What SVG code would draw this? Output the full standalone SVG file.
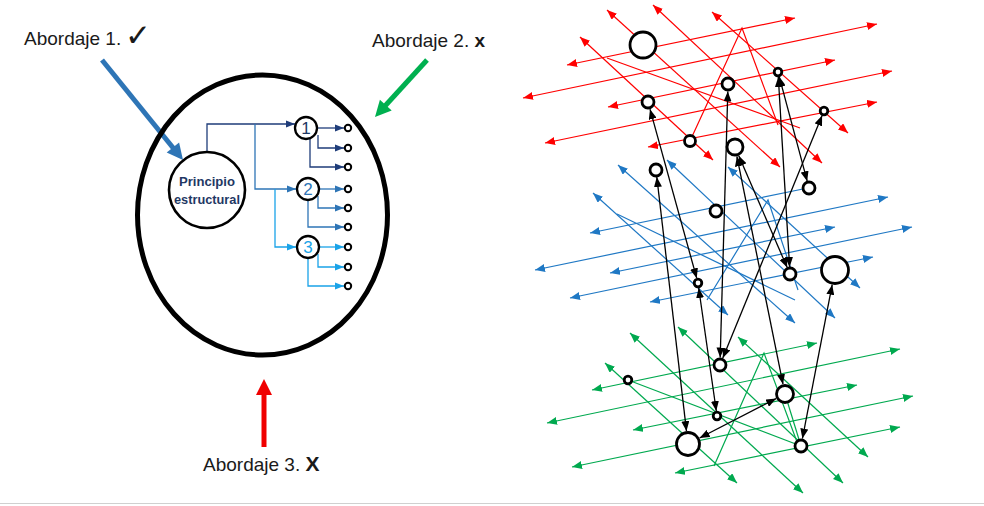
<svg xmlns="http://www.w3.org/2000/svg" width="984" height="506" viewBox="0 0 984 506">
<defs>
<style>
.lbl{font-family:"Liberation Sans",Arial,sans-serif;font-size:19px;fill:#1a1a1a}
.red{stroke:#ff0000;stroke-width:1.2;fill:none}
.blu{stroke:#1f78c4;stroke-width:1.2;fill:none}
.grn{stroke:#00a94f;stroke-width:1.2;fill:none}
.blk{stroke:#000;stroke-width:1.3;fill:none}
.red.a{marker-start:url(#mr);marker-end:url(#mr)}
.blu.a{marker-start:url(#mb);marker-end:url(#mb)}
.blu.s{marker-start:url(#mb)}
.grn.a{marker-start:url(#mg);marker-end:url(#mg)}
.blk.a{marker-start:url(#mk);marker-end:url(#mk)}
.nd{fill:#fff;stroke:#000;stroke-width:2.8}
.sn{fill:#fff;stroke:#000;stroke-width:2}
.c1{stroke:#1f3d7a;stroke-width:1.3;fill:none;marker-end:url(#m1)}
.c2{stroke:#2e75b6;stroke-width:1.3;fill:none;marker-end:url(#m2)}
.c3{stroke:#1aa3e8;stroke-width:1.3;fill:none;marker-end:url(#m3)}
.num{font-family:"Liberation Sans",Arial,sans-serif;font-size:17px;text-anchor:middle}
</style>
<marker id="mr" viewBox="0 0 10 8" refX="10" refY="4" markerWidth="10" markerHeight="8" markerUnits="userSpaceOnUse" orient="auto-start-reverse"><path d="M0,0L10,4L0,8z" fill="#ff0000"/></marker>
<marker id="mb" viewBox="0 0 10 8" refX="10" refY="4" markerWidth="10" markerHeight="8" markerUnits="userSpaceOnUse" orient="auto-start-reverse"><path d="M0,0L10,4L0,8z" fill="#1f78c4"/></marker>
<marker id="mg" viewBox="0 0 10 8" refX="10" refY="4" markerWidth="10" markerHeight="8" markerUnits="userSpaceOnUse" orient="auto-start-reverse"><path d="M0,0L10,4L0,8z" fill="#00a94f"/></marker>
<marker id="mk" viewBox="0 0 10 8" refX="10" refY="4" markerWidth="10" markerHeight="8" markerUnits="userSpaceOnUse" orient="auto-start-reverse"><path d="M0,0L10,4L0,8z" fill="#000"/></marker>
<marker id="m1" viewBox="0 0 10 8" refX="10" refY="4" markerWidth="9" markerHeight="8" markerUnits="userSpaceOnUse" orient="auto"><path d="M0,0L10,4L0,8z" fill="#1f3d7a"/></marker>
<marker id="m2" viewBox="0 0 10 8" refX="10" refY="4" markerWidth="9" markerHeight="8" markerUnits="userSpaceOnUse" orient="auto"><path d="M0,0L10,4L0,8z" fill="#2e75b6"/></marker>
<marker id="m3" viewBox="0 0 10 8" refX="10" refY="4" markerWidth="9" markerHeight="8" markerUnits="userSpaceOnUse" orient="auto"><path d="M0,0L10,4L0,8z" fill="#1aa3e8"/></marker>
</defs>
<rect width="984" height="506" fill="#fff"/>
<line x1="0" y1="503.5" x2="984" y2="503.5" stroke="#d0d0d0" stroke-width="1"/>

<!-- Left: labels and approach arrows -->
<g id="label-abordaje1">
<text class="lbl" x="24" y="45">Abordaje 1.</text>
<text x="125" y="46" font-family="DejaVu Sans,sans-serif" font-size="31" font-weight="bold" fill="#1a1a1a">✓</text>
</g>
<g id="label-abordaje2">
<text class="lbl" x="372" y="47">Abordaje 2. <tspan font-weight="bold">x</tspan></text>
</g>
<g id="label-abordaje3">
<text class="lbl" x="203" y="471">Abordaje 3. <tspan font-weight="bold" font-size="21">X</tspan></text>
</g>

<g id="arrow-1">
<line x1="102" y1="60" x2="174" y2="149" stroke="#2e75b6" stroke-width="5"/>
<polygon points="183,160 166.7,152.6 179.1,142.6" fill="#2e75b6"/>
</g>
<g id="arrow-2">
<line x1="427" y1="60" x2="385" y2="106" stroke="#00b050" stroke-width="5"/>
<polygon points="375,117 391.7,110.6 379.9,99.8" fill="#00b050"/>
</g>
<g id="arrow-3">
<line x1="264" y1="447" x2="264" y2="393" stroke="#f00000" stroke-width="5"/>
<polygon points="264,379 256,395 272,395" fill="#f00000"/>
</g>

<g id="outer-circle">
<ellipse cx="262.5" cy="215" rx="125" ry="140" fill="none" stroke="#000" stroke-width="5"/>
</g>

<g id="inner-connectors">
<path class="c1" d="M207,152V124H295"/>
<path class="c2" d="M255,124V189H296"/>
<path class="c3" d="M275,189V247H296"/>
<path class="c1" d="M317,128H344"/>
<path class="c1" d="M318,135V148H344"/>
<path class="c1" d="M310,139V167H344"/>
<path class="c2" d="M319,189H344"/>
<path class="c2" d="M318,196V208H344"/>
<path class="c2" d="M308,200V227H344"/>
<path class="c3" d="M319,247H344"/>
<path class="c3" d="M318,254V267H344"/>
<path class="c3" d="M308,258V286H344"/>
</g>

<g id="principio">
<circle cx="207" cy="190" r="38" fill="#fff" stroke="#000" stroke-width="2.6"/>
<text x="207" y="186" text-anchor="middle" font-family="Liberation Sans,Arial,sans-serif" font-size="13" font-weight="bold" fill="#1f3864" textLength="56" lengthAdjust="spacingAndGlyphs">Principio</text>
<text x="207" y="203.5" text-anchor="middle" font-family="Liberation Sans,Arial,sans-serif" font-size="13" font-weight="bold" fill="#1f3864" textLength="66" lengthAdjust="spacingAndGlyphs">estructural</text>
</g>
<g id="node-1">
<circle cx="306" cy="128" r="11" fill="#fff" stroke="#000" stroke-width="2.3"/>
<text class="num" x="306" y="134" fill="#1f3864">1</text>
</g>
<g id="node-2">
<circle cx="308" cy="189" r="11" fill="#fff" stroke="#000" stroke-width="2.3"/>
<text class="num" x="308" y="195" fill="#2e75b6">2</text>
</g>
<g id="node-3">
<circle cx="308" cy="247" r="11" fill="#fff" stroke="#000" stroke-width="2.3"/>
<text class="num" x="308" y="253" fill="#1aa3e8">3</text>
</g>
<g id="leaves">
<circle class="sn" cx="348" cy="128" r="3.2"/>
<circle class="sn" cx="348" cy="148" r="3.2"/>
<circle class="sn" cx="348" cy="167" r="3.2"/>
<circle class="sn" cx="348" cy="189" r="3.2"/>
<circle class="sn" cx="348" cy="208" r="3.2"/>
<circle class="sn" cx="348" cy="227" r="3.2"/>
<circle class="sn" cx="348" cy="247" r="3.2"/>
<circle class="sn" cx="348" cy="267" r="3.2"/>
<circle class="sn" cx="348" cy="286" r="3.2"/>
</g>

<!-- Right: layered network -->
<g id="red-layer">
<line class="red a" x1="567" y1="65" x2="795" y2="18"/>
<line class="red a" x1="523" y1="98" x2="877" y2="24"/>
<line class="red a" x1="608" y1="107" x2="835" y2="60"/>
<line class="red a" x1="545" y1="143" x2="892" y2="71"/>
<line class="red a" x1="648" y1="147" x2="877" y2="102"/>
<line class="red a" x1="580" y1="37" x2="713" y2="160"/>
<line class="red a" x1="607" y1="10" x2="780" y2="167"/>
<line class="red a" x1="653" y1="5" x2="822" y2="163"/>
<line class="red a" x1="712" y1="12" x2="848" y2="133"/>
<line class="red" x1="607" y1="58" x2="800" y2="128"/>
<polyline class="red" points="690,141 742,28 778,125"/>
</g>
<g id="blue-layer">
<line class="blu s" x1="590" y1="233" x2="803" y2="189"/>
<line class="blu a" x1="535" y1="270" x2="888" y2="197"/>
<line class="blu a" x1="610" y1="273" x2="835" y2="227"/>
<line class="blu a" x1="570" y1="298" x2="912" y2="227"/>
<line class="blu a" x1="650" y1="302" x2="873" y2="257"/>
<line class="blu a" x1="593" y1="193" x2="728" y2="315"/>
<line class="blu a" x1="618" y1="165" x2="795" y2="323"/>
<line class="blu a" x1="667" y1="160" x2="835" y2="318"/>
<line class="blu a" x1="728" y1="167" x2="860" y2="288"/>
<line class="blu" x1="617" y1="214" x2="795" y2="300"/>
<polyline class="blu" points="707,300 768,200 798,290"/>
</g>
<g id="green-layer">
<line class="grn a" x1="592" y1="390" x2="817" y2="343"/>
<line class="grn a" x1="547" y1="423" x2="900" y2="349"/>
<line class="grn a" x1="633" y1="430" x2="857" y2="385"/>
<line class="grn a" x1="572" y1="467" x2="913" y2="396"/>
<line class="grn a" x1="675" y1="473" x2="900" y2="427"/>
<line class="grn a" x1="605" y1="363" x2="737" y2="483"/>
<line class="grn a" x1="630" y1="333" x2="803" y2="493"/>
<line class="grn a" x1="678" y1="327" x2="843" y2="483"/>
<line class="grn a" x1="738" y1="337" x2="868" y2="457"/>
<line class="grn" x1="628" y1="380" x2="801" y2="446"/>
<polyline class="grn" points="714,466 764,353 800,450"/>
<line class="grn" x1="785" y1="394" x2="801" y2="446"/>
</g>

<g id="connectors">
<line class="blk a" x1="650" y1="109.2" x2="696.7" y2="278.2"/>
<line class="blk a" x1="698.7" y1="288" x2="716.3" y2="411"/>
<line class="blk a" x1="656.8" y1="177" x2="686.5" y2="431.1"/>
<line class="blk a" x1="727.8" y1="91.5" x2="720.2" y2="357.5"/>
<line class="blk a" x1="738.8" y1="155.7" x2="787.2" y2="267.6"/>
<line class="blk a" x1="736.9" y1="156.3" x2="783" y2="384.2"/>
<line class="blk a" x1="778.3" y1="77" x2="789.6" y2="267"/>
<line class="blk a" x1="779.3" y1="76.8" x2="807.2" y2="181.2"/>
<line class="blk a" x1="822.1" y1="115.6" x2="722.8" y2="358.1"/>
<line class="blk a" x1="832.2" y1="284.7" x2="802.4" y2="438.6"/>
<line class="blk a" x1="699.6" y1="438" x2="776.1" y2="398.6"/>
</g>

<g id="n-A"><circle class="nd" cx="643" cy="45" r="13"/></g>
<g id="n-B"><circle class="nd" cx="648" cy="102" r="6"/></g>
<g id="n-C"><circle class="nd" cx="690" cy="141" r="5.5"/></g>
<g id="n-D"><circle class="nd" cx="728" cy="84" r="6"/></g>
<g id="n-E"><circle class="nd" cx="735" cy="147" r="8"/></g>
<g id="n-F"><circle class="nd" cx="778" cy="72" r="3.8"/></g>
<g id="n-G"><circle class="nd" cx="824" cy="111" r="3.8"/></g>
<g id="n-H"><circle class="nd" cx="656" cy="170" r="6"/></g>
<g id="n-I"><circle class="nd" cx="716" cy="211" r="6"/></g>
<g id="n-J"><circle class="nd" cx="698" cy="283" r="3.8"/></g>
<g id="n-K"><circle class="nd" cx="809" cy="188" r="6"/></g>
<g id="n-L"><circle class="nd" cx="790" cy="274" r="6"/></g>
<g id="n-M"><circle class="nd" cx="835" cy="270" r="13.5"/></g>
<g id="n-N"><circle class="nd" cx="628" cy="380" r="3.8"/></g>
<g id="n-O"><circle class="nd" cx="720" cy="365" r="6"/></g>
<g id="n-P"><circle class="nd" cx="717" cy="416" r="3.8"/></g>
<g id="n-Q"><circle class="nd" cx="688" cy="444" r="11.5"/></g>
<g id="n-R"><circle class="nd" cx="785" cy="394" r="8.5"/></g>
<g id="n-S"><circle class="nd" cx="801" cy="446" r="6"/></g>
</svg>
